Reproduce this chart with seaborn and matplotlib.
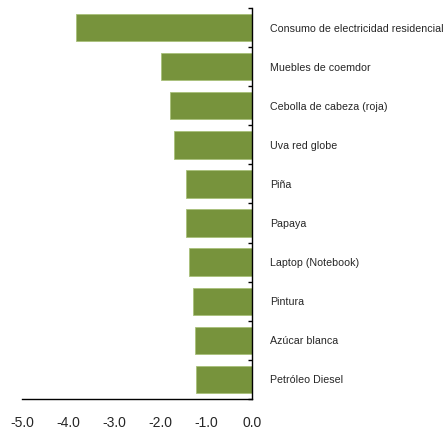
import numpy as np
import pandas as pd
import seaborn as sns
import matplotlib.pyplot as plt
from matplotlib.ticker import FixedLocator

productos = ["Consumo de electricidad residencial", "Muebles de coemdor",
             "Cebolla de cabeza (roja)", "Uva red globe", "Piña", "Papaya",
             "Laptop (Notebook)", "Pintura", "Azúcar blanca", "Petróleo Diesel"]
variacion = [-3.82, -1.97, -1.78, -1.69, -1.43, -1.43, -1.37, -1.28, -1.25, -1.21]
xticks = [-5.0, -4.0, -3.0, -2.0, -1.0, 0.0]

df = pd.DataFrame({"producto": productos, "var": variacion})

sns.set_style("white")
plt.rcParams['font.family'] = ['Liberation Sans', 'DejaVu Sans']

fig = plt.figure(figsize=(4.46, 4.33), dpi=100)
ax = fig.add_axes([22/446, 1-399/433, (252-22)/446, (399-8)/433])

sns.barplot(data=df, x="var", y="producto", orient="h", color="#77933C",
            saturation=1, width=0.7, edgecolor="#a9c07a", linewidth=0.6, ax=ax)

ax.set_xlim(-5, 0)
ax.set_ylim(9.5, -0.5)
ax.set_xlabel("")
ax.set_ylabel("")

for s in ["left", "top"]:
    ax.spines[s].set_visible(False)
for s in ["right", "bottom"]:
    ax.spines[s].set_visible(True)
    ax.spines[s].set_color("black")
    ax.spines[s].set_linewidth(1.0)

# category names to the right of the zero line, ticks between the bars
ax.yaxis.tick_right()
ax.set_yticks(range(len(productos)))
ax.set_yticklabels(productos, fontsize=7.7)
ax.yaxis.set_minor_locator(FixedLocator(np.arange(-0.5, len(productos), 1.0)))
ax.tick_params(axis="y", which="major", length=0, pad=13)
ax.tick_params(axis="y", which="minor", direction="in", length=3, width=1, color="black")

ax.set_xticks(xticks)
ax.set_xticklabels(["%.1f" % v for v in xticks], fontsize=10)
ax.tick_params(axis="x", which="major", direction="out", length=3, width=1, color="black", pad=9)

fig.savefig("out.png", dpi=100)
